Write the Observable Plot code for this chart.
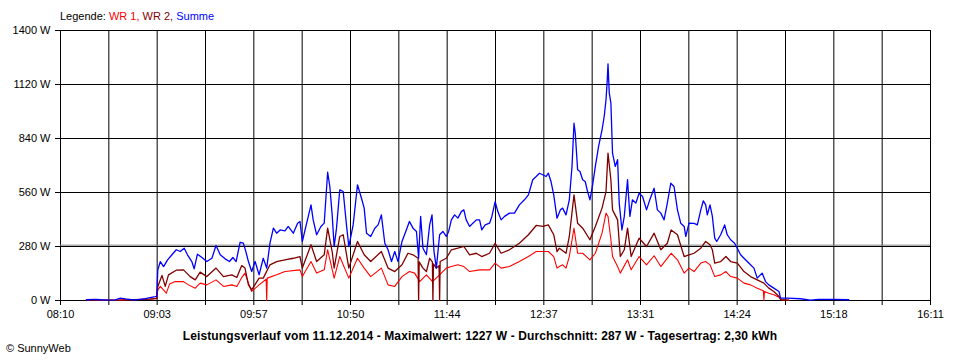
<!DOCTYPE html>
<html>
<head>
<meta charset="utf-8">
<script src="https://cdn.jsdelivr.net/npm/d3@7"></script>
<script src="https://cdn.jsdelivr.net/npm/@observablehq/plot@0.6"></script>
<style>
  body { margin: 0; background: #fff; }
  #wrap { position: relative; width: 960px; height: 360px; font-family: "Liberation Sans", Arial, sans-serif; color: #000; }
  #chart { position: absolute; left: 0; top: 0; }
  #legend { position: absolute; left: 60px; top: 10px; font-size: 11px; line-height: 13px; white-space: pre; }
  #caption { position: absolute; left: 0; width: 960px; top: 329px; text-align: center; font-weight: bold; font-size: 12px; letter-spacing: 0.12px; line-height: 14px; }
  #copy { position: absolute; left: 6px; top: 342px; font-size: 11px; line-height: 13px; }
</style>
</head>
<body>
<div id="wrap">
  <div id="chart"></div>
  <div id="legend"></div>
  <div id="caption"></div>
  <div id="copy"></div>
</div>
<script>
// ---- data (time in minutes since midnight, power in W) ----
const tickLabels = ["08:10", "09:03", "09:57", "10:50", "11:44", "12:37", "13:31", "14:24", "15:18", "16:11"];
const yTicks = [0, 280, 560, 840, 1120, 1400];
const averageW = 287;
const seriesNames = ["WR 1", "WR 2", "Summe"];
const seriesColors = ["#ff0000", "#800000", "#0000ff"];
const captionText = "Leistungsverlauf vom 11.12.2014 - Maximalwert: 1227 W - Durchschnitt: 287 W - Tagesertrag: 2,30 kWh";
const copyText = "© SunnyWeb";

const summe = [
  [504.3,4],[509.3,6],[512.1,4],[516.5,2],[520.3,3],[523.1,12],[525.9,8],[530.3,3],[534.1,6],[536.9,10],
  [539.6,15],[542.4,20],[543.2,22],[543.8,159],[545.2,202],[547.0,176],[549.2,211],[551.6,237],[554.0,263],[556.2,254],
  [558.4,271],[560.2,237],[562.6,202],[563.9,164],[565.7,240],[568.2,223],[570.9,202],[573.7,219],[576.0,285],[578.3,237],
  [581.0,216],[583.4,202],[585.3,223],[587.1,202],[589.3,302],[591.1,297],[592.3,260],[593.9,202],[595.7,150],[597.6,202],
  [599.8,133],[602.1,219],[604.0,168],[605.8,297],[607.7,375],[609.5,349],[611.4,366],[614.1,361],[615.9,384],[618.7,349],
  [621.1,401],[622.4,410],[623.7,306],[626.1,401],[628.5,496],[629.7,418],[631.6,341],[634.0,384],[635.8,401],[637.7,665],
  [638.9,591],[640.2,444],[641.3,280],[642.6,375],[644.4,574],[646.3,565],[648.1,392],[649.4,280],[651.8,392],[654.2,600],
  [656.4,530],[657.9,479],[659.2,349],[661.5,332],[663.8,375],[665.6,392],[667.4,444],[669.3,297],[671.1,263],[673.0,202],
  [674.8,254],[676.6,202],[678.8,306],[681.2,366],[682.9,410],[684.9,375],[686.8,358],[688.0,219],[689.1,436],[690.4,271],
  [692.3,237],[694.1,392],[695.4,444],[696.5,254],[697.8,168],[699.6,341],[701.4,358],[703.3,332],[704.6,358],[706.1,418],
  [707.9,444],[709.7,427],[711.6,461],[713.0,470],[714.3,418],[716.2,384],[718.0,401],[719.9,418],[721.7,418],[722.9,366],
  [724.8,392],[727.2,401],[728.5,436],[730.3,513],[731.8,461],[733.6,418],[735.5,436],[738.2,453],[741.0,453],[743.7,496],
  [746.5,522],[748.7,548],[751.1,626],[753.0,643],[754.8,660],[756.6,652],[758.5,643],[759.7,660],[761.2,617],[762.7,548],
  [764.5,427],[766.4,470],[767.6,479],[769.5,444],[771.3,522],[772.8,695],[773.9,919],[774.6,868],[775.9,678],[777.2,669],
  [778.7,626],[780.1,617],[781.4,565],[782.7,522],[784.2,600],[785.7,695],[787.5,799],[789.4,885],[790.6,954],[791.6,1041],
  [792.3,1144],[792.7,1227],[793.4,1075],[794.3,1023],[795.2,764],[796.7,695],[798.0,730],[798.9,505],[800.4,366],[801.7,436],
  [803.5,626],[804.8,436],[806.2,522],[808.1,505],[809.9,556],[811.8,539],[814.0,470],[815.8,522],[818.2,582],[820.0,470],
  [821.9,453],[823.7,418],[825.5,505],[827.4,608],[829.2,591],[831.1,470],[832.9,401],[834.8,384],[835.7,332],[837.5,401],
  [840.3,400],[842.1,392],[844.0,470],[845.4,517],[846.7,496],[847.6,444],[849.1,496],[850.4,436],[851.7,323],[852.8,306],
  [855.0,341],[857.2,392],[858.6,341],[860.5,315],[862.7,297],[864.2,271],[866.0,237],[867.9,219],[869.7,202],[871.5,185],
  [873.4,168],[875.2,116],[877.9,142],[879.8,98],[881.6,81],[884.4,64],[887.2,47],[888.1,12],[891.7,12],[899.1,9],
  [904.6,2],[909.2,6],[917.5,6],[925.8,4]
];

const wr2 = [
  [504.3,2],[520.3,1],[539.6,7],[543.2,10],[543.8,73],[546.1,130],[547.9,73],[549.7,133],[554.0,157],[558.0,159],
  [561.7,124],[564.5,107],[567.2,147],[570.9,124],[576.0,168],[580.1,124],[584.7,133],[587.5,119],[590.2,181],[592.0,168],
  [593.9,81],[595.7,55],[599.8,116],[602.1,116],[605.8,185],[609.5,202],[614.1,211],[618.7,219],[622.4,228],[623.7,168],
  [628.5,289],[631.6,202],[635.8,237],[637.7,375],[640.2,254],[641.3,168],[644.4,332],[646.3,341],[649.4,168],[654.2,306],
  [657.9,237],[661.5,202],[667.4,254],[671.1,168],[674.8,150],[678.8,185],[682.1,245],[684.9,237],[687.7,219],[688.0,0],
  [688.3,200],[690.4,168],[692.3,150],[694.1,219],[695.6,200],[695.9,0],[696.2,190],[697.8,168],[699.3,180],[699.6,0],
  [699.9,202],[703.3,219],[706.1,263],[709.7,271],[713.0,280],[716.2,237],[719.9,245],[722.9,228],[727.2,245],[730.3,297],
  [733.6,245],[738.2,263],[743.7,297],[748.7,341],[753.0,389],[756.6,384],[759.7,392],[762.7,341],[764.5,254],[765.8,271],
  [769.5,245],[771.3,332],[773.9,548],[775.9,401],[778.7,375],[782.7,315],[785.7,384],[789.4,479],[791.6,565],[792.7,764],
  [794.3,626],[795.2,470],[798.0,418],[799.5,228],[801.7,263],[803.5,375],[805.5,228],[809.9,323],[814.0,280],[818.2,349],
  [821.9,263],[825.5,297],[827.6,366],[831.1,341],[834.8,228],[837.5,237],[840.3,245],[844.0,271],[846.7,306],[849.1,289],
  [850.4,263],[851.7,194],[855.0,202],[857.9,228],[860.5,202],[864.2,194],[867.9,150],[871.5,124],[875.2,107],[878.9,90],
  [881.6,64],[884.4,47],[887.2,21],[888.3,5],[892.7,2]
];

const wr1 = [
  [504.3,2],[520.3,2],[539.6,8],[543.2,12],[543.8,55],[545.2,73],[548.5,38],[550.3,85],[553.4,98],[558.0,98],
  [560.8,81],[564.5,64],[567.2,90],[570.9,81],[576.0,107],[580.1,73],[584.7,81],[587.5,73],[590.2,119],[592.0,142],
  [593.9,90],[595.7,47],[599.8,81],[603.7,110],[604.0,0],[604.3,116],[609.5,133],[614.1,150],[622.4,159],[623.7,124],
  [628.5,202],[631.6,142],[635.8,159],[637.7,263],[641.3,116],[644.4,228],[649.4,116],[654.2,219],[657.9,168],[661.5,124],
  [667.4,168],[671.1,81],[674.8,73],[678.8,124],[682.9,150],[685.8,142],[688.6,98],[692.3,133],[695.7,98],[699.6,133],
  [703.3,168],[706.1,176],[709.7,185],[713.0,176],[716.2,150],[721.7,159],[727.2,159],[730.3,194],[733.6,168],[738.2,176],
  [743.7,202],[748.7,228],[753.0,254],[759.7,254],[762.7,228],[764.5,168],[765.8,176],[767.6,185],[769.5,168],[771.3,228],
  [773.9,375],[775.9,245],[778.7,245],[782.7,211],[785.7,245],[789.4,349],[791.6,453],[792.7,436],[794.3,315],[795.2,228],
  [798.0,176],[799.5,142],[803.5,211],[805.5,159],[809.9,228],[814.0,185],[818.2,232],[821.9,176],[827.6,245],[831.1,211],
  [834.8,142],[837.5,168],[840.3,150],[844.0,194],[846.7,202],[849.1,185],[851.7,124],[855.0,133],[857.9,150],[860.5,124],
  [864.2,116],[867.9,90],[871.5,81],[875.2,64],[878.6,50],[878.9,0],[879.2,47],[881.6,38],[884.4,30],[887.2,17],
  [888.3,4],[892.7,1]
];

// ---- build ----
const toMin = s => { const [h, m] = s.split(":").map(Number); return h * 60 + m; };
const x0 = toMin(tickLabels[0]);
const x1 = toMin(tickLabels[tickLabels.length - 1]);
const nGrid = (tickLabels.length - 1) * 2;
const step = (x1 - x0) / nGrid;
const gridX = d3.range(nGrid + 1).map(i => x0 + i * step);
const toRows = arr => arr.map(([m, w]) => ({m, w}));

const chart = Plot.plot({
  width: 960,
  height: 360,
  marginTop: 30,
  marginBottom: 60,
  marginLeft: 60,
  marginRight: 30,
  style: {fontFamily: '"Liberation Sans", Arial, sans-serif', fontSize: "11px", color: "#000", background: "#fff"},
  x: {domain: [x0, x1], label: null},
  y: {domain: [yTicks[0], yTicks[yTicks.length - 1]], label: null},
  marks: [
    Plot.ruleX(gridX, {stroke: "#000", strokeWidth: 1}),
    Plot.ruleY(yTicks, {stroke: "#000", strokeWidth: 1}),
    Plot.ruleY([averageW], {stroke: "#808080", strokeWidth: 1}),
    Plot.line(toRows(wr1), {x: "m", y: "w", stroke: seriesColors[0], strokeWidth: 1.1}),
    Plot.line(toRows(wr2), {x: "m", y: "w", stroke: seriesColors[1], strokeWidth: 1.3}),
    Plot.line(toRows(summe), {x: "m", y: "w", stroke: seriesColors[2], strokeWidth: 1.3}),
    Plot.axisX({
      ticks: gridX, tickSize: 5, tickPadding: 5, label: null,
      tickFormat: d => { const k = Math.round((d - x0) / step); return k % 2 === 0 ? tickLabels[k / 2] : ""; }
    }),
    Plot.axisY({ticks: yTicks, tickSize: 5, tickPadding: 5, label: null, tickFormat: d => d + " W"})
  ]
});
document.getElementById("chart").appendChild(chart);

// legend
const legend = document.getElementById("legend");
legend.appendChild(document.createTextNode("Legende: "));
seriesNames.forEach((n, i) => {
  const s = document.createElement("span");
  s.style.color = seriesColors[i];
  s.textContent = n + (i < seriesNames.length - 1 ? ", " : "");
  legend.appendChild(s);
});
document.getElementById("caption").textContent = captionText;
document.getElementById("copy").textContent = copyText;
</script>
</body>
</html>
